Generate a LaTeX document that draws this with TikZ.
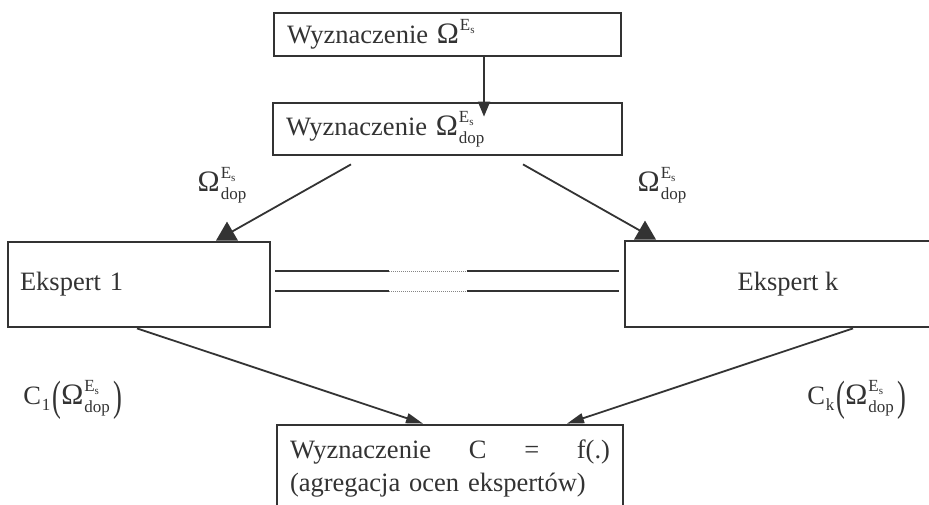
\documentclass[tikz,border=0pt]{standalone}
\usepackage{fontspec}
\setmainfont{Liberation Serif}
\usepackage{graphicx}
\usetikzlibrary{arrows.meta,calc}
\definecolor{ink}{HTML}{333333}
\newcommand\sfs[1]{{\fontsize{17}{17}\selectfont #1}}
\newcommand\tfs[1]{{\fontsize{11}{11}\selectfont #1}}
\newcommand\Om{\scalebox{1.12}{Ω}}
\newcommand\OmE{\Om\kern1pt\raisebox{0.5em}{\sfs{E\raisebox{-0.2em}{\tfs{s}}}}}
\newcommand\OmDop{\Om\kern1pt\rlap{\raisebox{0.5em}{\sfs{E\raisebox{-0.2em}{\tfs{s}}}}}\raisebox{-0.3em}{\sfs{dop}}}
\newcommand\bigp[1]{\raisebox{-0.25em}{\scalebox{1}[1.6]{#1}}}
\newcommand\CofOm[1]{C\kern1pt\raisebox{-0.25em}{\sfs{#1}}\kern2pt\bigp{(}\OmDop\kern4pt\bigp{)}}
\begin{document}
\begin{tikzpicture}[x=1pt,y=-1pt,
  every node/.style={font=\fontsize{26.5}{33}\selectfont, text=ink},
  box/.style={draw=ink, line width=2.8pt, inner sep=0pt},
  conn/.style={draw=ink, line width=1.8pt},
  tip/.style={-{Triangle[length=15pt,width=12pt]}},
  tipb/.style={-{Triangle[length=17pt,width=10pt]}},
]
\useasboundingbox (0,0) rectangle (929,505);
\clip (0,0) rectangle (929,505);
\fill[white] (0,0) rectangle (929,505);

\node[box, minimum width=347pt, minimum height=43pt, text width=321pt, align=left] (b1) at (447.5,34.5) {Wyznaczenie \OmE};
\node[box, minimum width=349pt, minimum height=52pt, text width=323pt, align=left] (b2) at (447.5,129) {Wyznaczenie \OmDop};
\node[box, minimum width=262pt, minimum height=85pt, text width=238pt, align=left] (e1) at (139,284.5) {Ekspert 1};
\node[box, minimum width=326pt, minimum height=86pt, align=center] (ek) at (788,284) {Ekspert k};
\node[box, minimum width=346pt, minimum height=88pt, text width=320pt, align=left] (b3) at (450,469) {Wyznaczenie\hfill C\hfill =\hfill f(.)\\\makebox[316pt][s]{(agregacja ocen ekspertów)}};

% top vertical arrow
\draw[conn, tip] ([xshift=36.5pt]b1.south) -- ([xshift=36.5pt, yshift=-15pt]b2.north);

% arrows to experts
\coordinate (t1) at ([xshift=88pt]e1.north);
\coordinate (tk) at ([xshift=-143pt]ek.north);
\draw[conn] ([xshift=-96.5pt, yshift=-8pt]b2.south) -- ([xshift=5pt,yshift=9pt]t1);
\fill[ink] ([xshift=-11pt]t1) -- ([xshift=11pt]t1) -- ([yshift=19pt]t1) -- cycle;
\draw[conn] ([xshift=75.5pt, yshift=-8pt]b2.south) -- ([xshift=-5pt,yshift=9pt]tk);
\fill[ink] ([xshift=-11pt]tk) -- ([xshift=11pt]tk) -- ([yshift=19pt]tk) -- cycle;

% labels
\node (lo1) at (222,185) {\OmDop};
\node (lok) at (662,185) {\OmDop};

% double link between experts
\coordinate (a1) at ([xshift=4pt,yshift=13.5pt]e1.east);
\coordinate (a2) at ($(ek.west |- a1)+(-5,0)$);
\coordinate (c1) at ([xshift=4pt,yshift=-6.5pt]e1.east);
\coordinate (c2) at ($(ek.west |- c1)+(-5,0)$);
\foreach \p/\q in {a1/a2, c1/c2}{
  \draw[conn, line width=1.5pt] (\p) -- ($(\p)!0.332!(\q)$);
  \draw[ink!60, line width=1pt, densely dotted] ($(\p)!0.332!(\q)$) -- ($(\p)!0.558!(\q)$);
  \draw[conn, line width=1.5pt] ($(\p)!0.558!(\q)$) -- (\q);
}

% arrows to aggregation
\draw[conn, tipb] ([xshift=-2pt]e1.south) -- ([xshift=-27pt]b3.north);
\draw[conn, tipb] ([xshift=65pt]ek.south) -- ([xshift=117pt]b3.north);

\node (cl1) at (73,400) {\CofOm{1}};
\node (clk) at (857,400) {\CofOm{k}};
\end{tikzpicture}
\end{document}
